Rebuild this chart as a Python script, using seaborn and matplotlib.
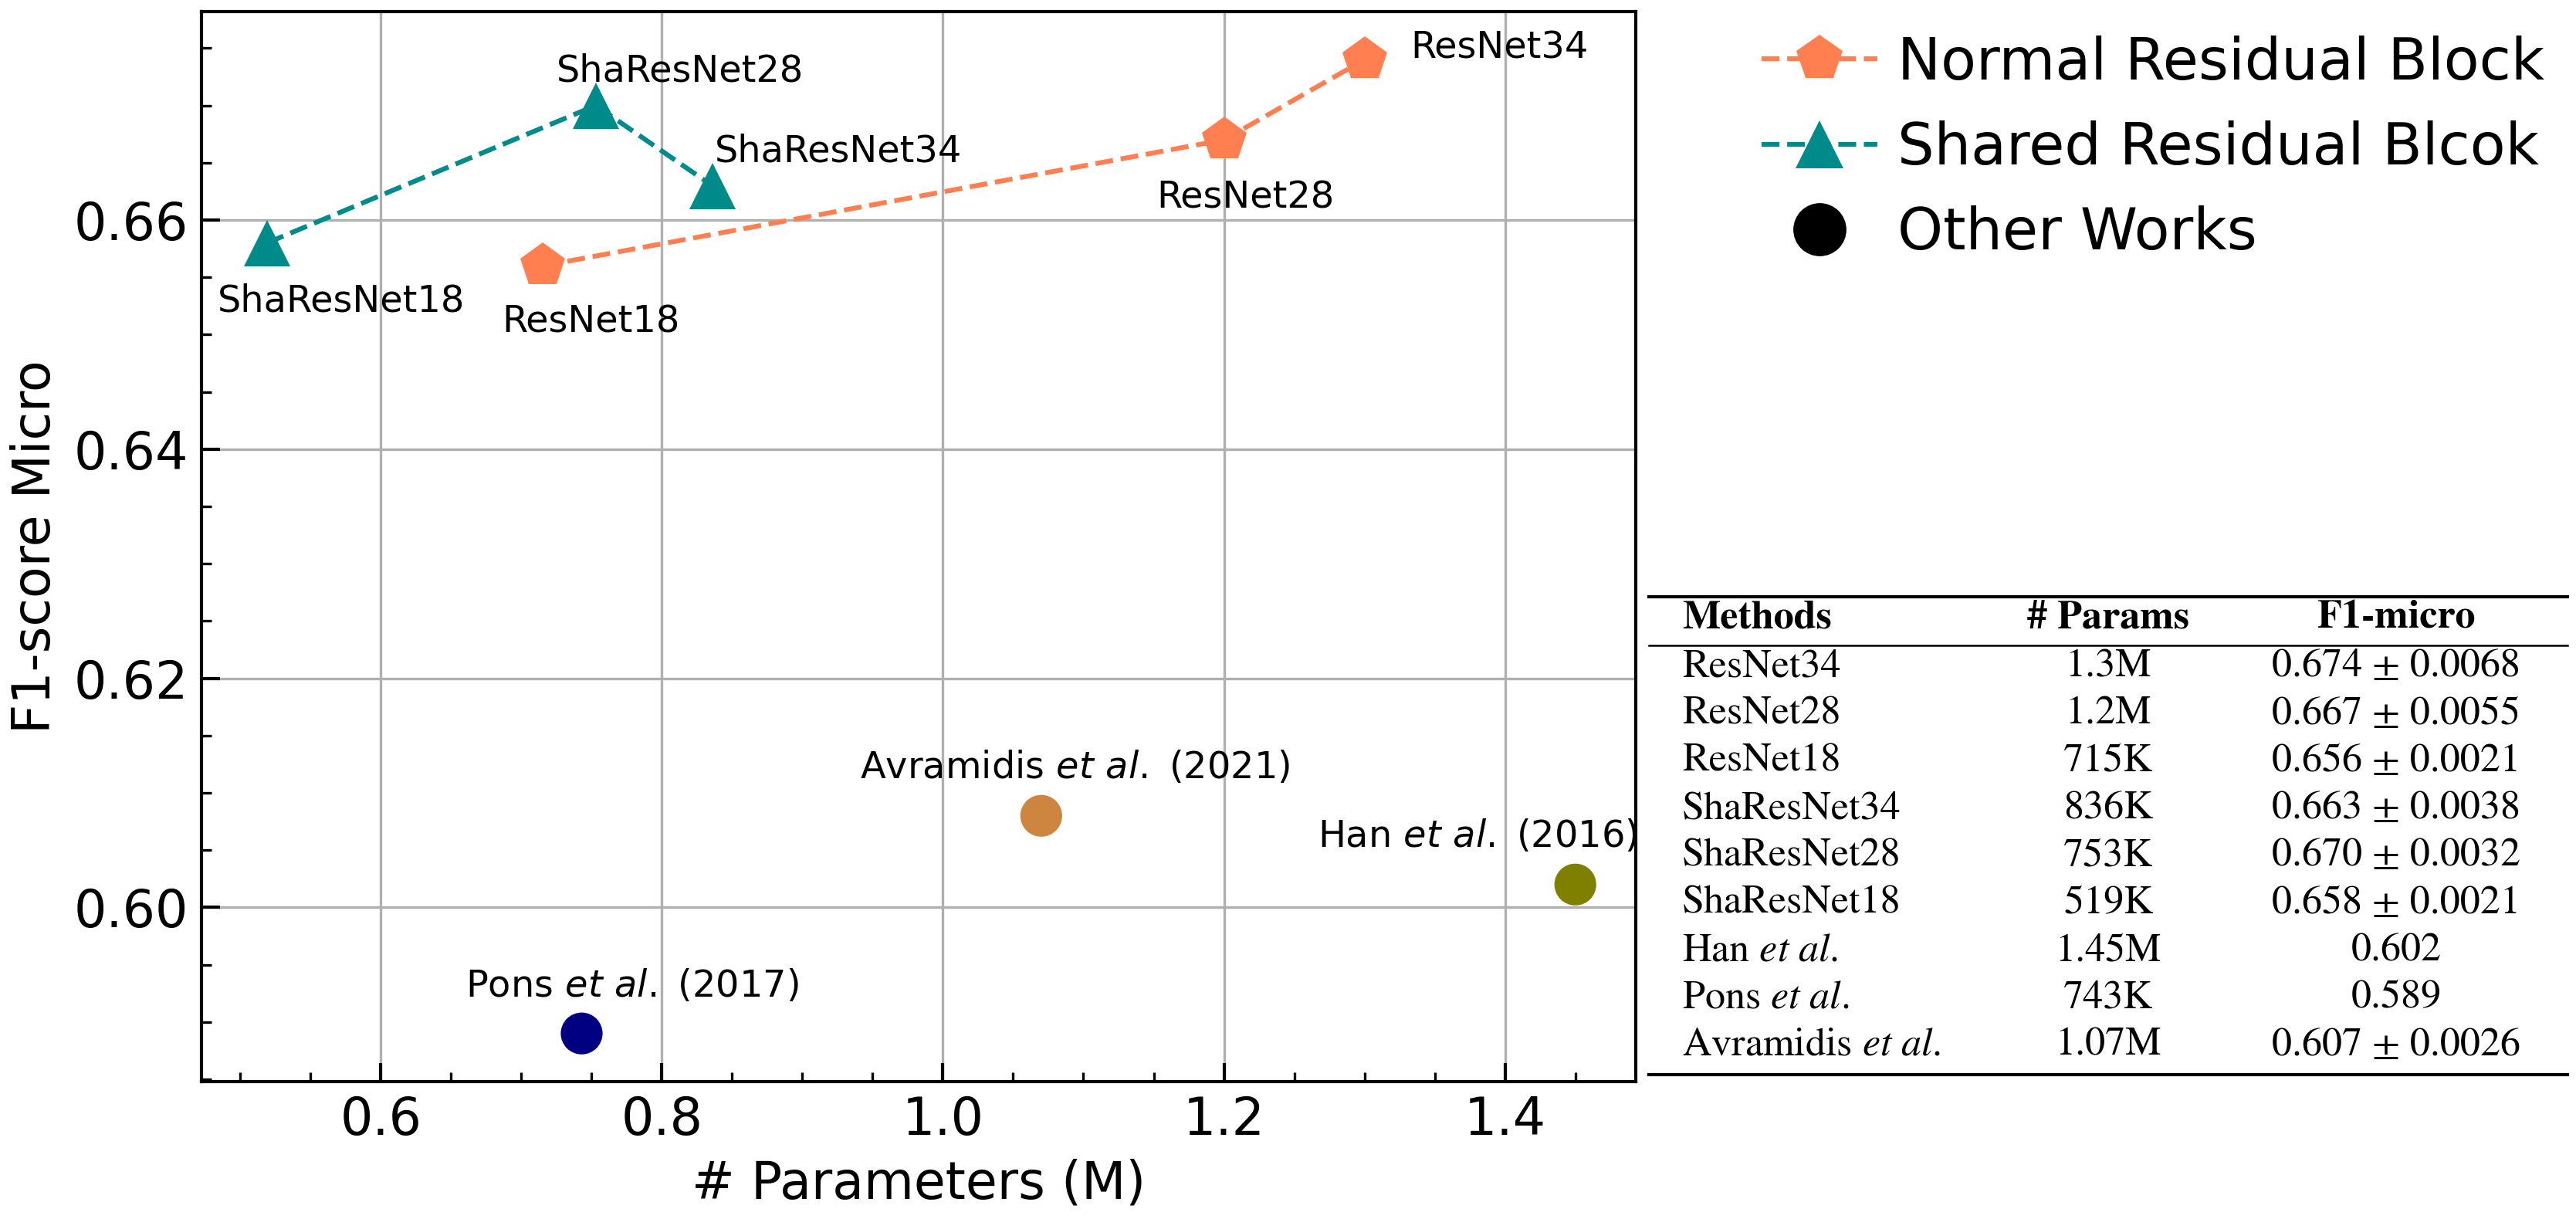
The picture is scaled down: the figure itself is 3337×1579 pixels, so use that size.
import numpy as np
import pandas as pd
import matplotlib.pyplot as plt
import seaborn as sns
from matplotlib.lines import Line2D
from matplotlib.ticker import MultipleLocator, FormatStrFormatter

# data
normal_names = ["ResNet18", "ResNet28", "ResNet34"]
normal_params = [0.715, 1.2, 1.3]
normal_f1 = [0.656, 0.667, 0.674]

shared_names = ["ShaResNet18", "ShaResNet28", "ShaResNet34"]
shared_params = [0.519, 0.753, 0.836]
shared_f1 = [0.658, 0.670, 0.663]

other_names = [r"Han $\it{et\ al.}$ (2016)", r"Pons $\it{et\ al.}$ (2017)",
               r"Avramidis $\it{et\ al.}$ (2021)"]
other_params = [1.45, 0.743, 1.07]
other_f1 = [0.602, 0.589, 0.608]

table_methods = ["ResNet34", "ResNet28", "ResNet18", "ShaResNet34", "ShaResNet28",
                 "ShaResNet18", r"Han $\it{et\ al.}$", r"Pons $\it{et\ al.}$",
                 r"Avramidis $\it{et\ al.}$"]
table_params = ["1.3M", "1.2M", "715K", "836K", "753K", "519K", "1.45M", "743K", "1.07M"]
table_f1 = ["0.674 \u00b1 0.0068", "0.667 \u00b1 0.0055", "0.656 \u00b1 0.0021",
            "0.663 \u00b1 0.0038", "0.670 \u00b1 0.0032", "0.658 \u00b1 0.0021",
            "0.602", "0.589", "0.607 \u00b1 0.0026"]

# styling
c_normal = "#FF7F50"
c_shared = "#008B8B"
other_colors = ["#808000", "#000080", "#CD853F"]
normal_offsets = [(-12.5, -17.3, "left"), (-20.9, -18, "left"), (14.4, 3.6, "left")]
shared_offsets = [(-15.4, -18, "left"), (-12.2, 10.8, "left"), (0.7, 10.6, "left")]
other_offsets = [(19.2, 14.9, "right"), (-36.2, 14.6, "left"), (-56.4, 14.9, "left")]

W, H = 3337, 1579
plt.rcParams["font.family"] = ["DejaVu Sans"]

fig = plt.figure(figsize=(W / 300, H / 300), dpi=300)
ax = fig.add_axes([261 / W, 1 - 1401 / H, (2119 - 261) / W, (1401 - 15) / H])

df_normal = pd.DataFrame({"params": normal_params, "f1": normal_f1})
df_shared = pd.DataFrame({"params": shared_params, "f1": shared_f1})
df_other = pd.DataFrame({"params": other_params, "f1": other_f1, "name": other_names})

sns.lineplot(data=df_normal, x="params", y="f1", ax=ax, color=c_normal, marker="p",
             markersize=14.5, markeredgewidth=0, linestyle="--", linewidth=1.5, zorder=3)
sns.lineplot(data=df_shared, x="params", y="f1", ax=ax, color=c_shared, marker="^",
             markersize=14.5, markeredgewidth=0, linestyle="--", linewidth=1.5, zorder=3)
sns.scatterplot(data=df_other, x="params", y="f1", hue="name", palette=other_colors,
                s=13 ** 2, linewidth=0, legend=False, ax=ax, zorder=3)

for names, xs, ys, offs in [(normal_names, normal_params, normal_f1, normal_offsets),
                            (shared_names, shared_params, shared_f1, shared_offsets),
                            (other_names, other_params, other_f1, other_offsets)]:
    for n, x, y, (dx, dy, ha) in zip(names, xs, ys, offs):
        ax.annotate(n, (x, y), xytext=(dx, dy), textcoords="offset points",
                    ha=ha, va="center", fontsize=11.5)

ax.set_xlim(0.4725, 1.493)
ax.set_ylim(0.5848, 0.6782)
ax.xaxis.set_major_locator(MultipleLocator(0.2))
ax.xaxis.set_minor_locator(MultipleLocator(0.05))
ax.yaxis.set_major_locator(MultipleLocator(0.02))
ax.yaxis.set_minor_locator(MultipleLocator(0.005))
ax.xaxis.set_major_formatter(FormatStrFormatter("%.1f"))
ax.yaxis.set_major_formatter(FormatStrFormatter("%.2f"))
ax.tick_params(which="both", direction="in", labelsize=16, pad=4)
ax.tick_params(which="major", length=5.8, width=1.0)
ax.tick_params(which="minor", length=3, width=0.8)
ax.grid(True, which="major", color="#b0b0b0", linewidth=0.8)
ax.set_axisbelow(True)
for s in ax.spines.values():
    s.set_linewidth(1.0)
ax.set_xlabel("# Parameters (M)", fontsize=16)
ax.set_ylabel("F1-score Micro", fontsize=16)

handles = [
    Line2D([], [], color=c_normal, marker="p", markersize=15, markeredgewidth=0,
           linestyle="--", linewidth=1.5),
    Line2D([], [], color=c_shared, marker="^", markersize=15, markeredgewidth=0,
           linestyle="--", linewidth=1.5),
    Line2D([], [], color="black", marker="o", markersize=15.5, linestyle="none"),
]
ax.legend(handles, ["Normal Residual Block", "Shared Residual Blcok", "Other Works"],
          loc="upper left", bbox_to_anchor=(2244 / W, 1 - 8 / H),
          bbox_transform=fig.transFigure, frameon=False, fontsize=18, borderpad=0,
          labelspacing=0.5, handlelength=2.0, handletextpad=0.35)

# booktabs-style table
tfont = dict(family="STIXGeneral", math_fontfamily="stix", fontsize=12.5, va="center")
x0, x1 = 2136 / W, 3326 / W
col_x = [(2179 / W, "left"), (2731 / W, "center"), (3104 / W, "center")]
for py, lw in [(773, 1.0), (836, 0.6), (1392, 1.0)]:
    fig.add_artist(Line2D([x0, x1], [1 - py / H] * 2, color="black", linewidth=lw,
                          transform=fig.transFigure))
for (cx, ha), txt in zip(col_x, ["Methods", "# Params", "F1-micro"]):
    fig.text(cx, 1 - 801 / H, txt, ha=ha, fontweight="bold", **tfont)
for i, row in enumerate(zip(table_methods, table_params, table_f1)):
    py = 864 + i * 61.3
    for (cx, ha), txt in zip(col_x, row):
        fig.text(cx, 1 - py / H, txt, ha=ha, **tfont)

fig.savefig("out.png", dpi=300)
